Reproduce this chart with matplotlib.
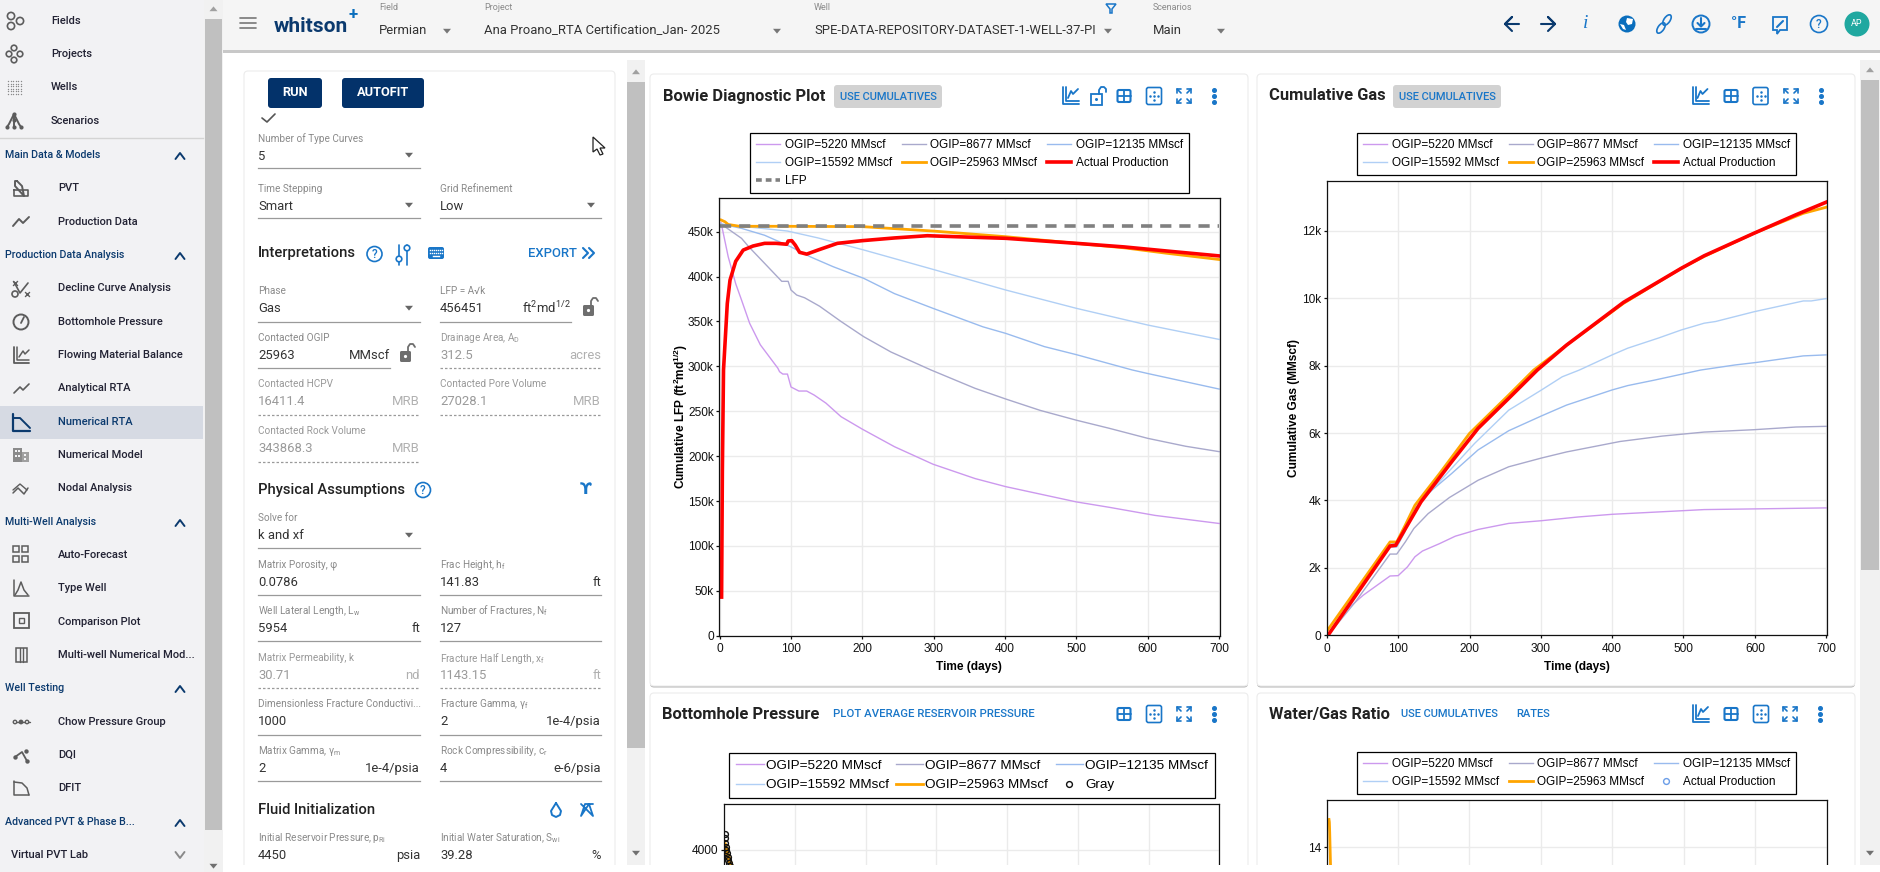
import matplotlib
matplotlib.use('Agg')
import matplotlib.pyplot as plt
from matplotlib.patches import Rectangle, FancyBboxPatch, Circle, Polygon, Ellipse
from matplotlib.lines import Line2D

plt.rcParams['font.family'] = ['Liberation Sans', 'DejaVu Sans']
plt.rcParams['mathtext.fontset'] = 'custom'
plt.rcParams['mathtext.rm'] = 'Roboto'
plt.rcParams['mathtext.it'] = 'Roboto:italic'
plt.rcParams['mathtext.bf'] = 'Liberation Sans:bold'

W, H = 1880, 872
NAVY = '#0b3a6e'
BLUE = '#1976c8'
ICON = '#5c5c5c'

# series labels
labels_ogip = ['OGIP=5220 MMscf', 'OGIP=8677 MMscf', 'OGIP=12135 MMscf', 'OGIP=15592 MMscf', 'OGIP=25963 MMscf']
colors_ogip = ['#cc99ee', '#a9a9cc', '#99bbee', '#b0cff5', '#ffa500']
widths_ogip = [1.0, 1.0, 1.0, 1.0, 2.0]

# Bowie diagnostic plot, LFP in thousands
bowie_days_5220 = [2, 12, 22.5, 30.6, 42, 57, 81.5, 84, 88.5, 95, 100, 111, 122, 132.5, 149, 170, 200, 245, 299, 358, 401, 465, 500, 546, 610, 700]
bowie_lfp_5220 = [460, 422, 392, 374, 348, 324, 298, 294, 291.4, 291.4, 277, 272.5, 272.5, 268, 259, 244, 230, 210.5, 191, 175, 166, 155, 149, 143, 134, 125]
bowie_days_8677 = [2, 30.6, 41, 63, 87, 96, 100, 108, 119, 140, 170, 202, 240, 296, 358, 401, 449, 500, 546, 600, 653, 700]
bowie_lfp_8677 = [458.5, 442.6, 433, 414.7, 394.7, 394.7, 385, 379.4, 376.4, 367, 350, 333, 316, 296, 275.5, 263.6, 251, 240, 231, 219.8, 211, 205]
bowie_days_12135 = [2, 30.6, 63, 100, 127, 159, 202, 245, 299, 369, 401, 455, 500, 578, 600, 700]
bowie_lfp_12135 = [458.5, 453.7, 446, 433, 422, 411, 398, 381, 364.6, 344, 336.7, 322, 313, 296, 292, 274.7]
bowie_days_15592 = [2, 36, 95, 138, 202, 299, 401, 500, 600, 700]
bowie_lfp_15592 = [458.5, 455.6, 450.7, 443, 429.6, 408, 385, 364.6, 346, 330]
bowie_days_25963 = [2, 7.5, 12, 28, 90, 200, 299, 401, 500, 567, 626, 700]
bowie_lfp_25963 = [463, 461, 458, 456, 456, 455.6, 450.7, 444.4, 437, 432, 426, 419]
bowie_days_actual = [2.7, 3.8, 5.4, 10.7, 14.5, 22.5, 33, 46.7, 63, 79, 94, 96, 101, 106, 112, 122, 138, 165, 200, 245, 291, 331, 401, 500, 567, 626, 700]
bowie_lfp_actual = [43, 184, 296, 370, 396, 417, 429.5, 434, 437, 437, 436, 439.6, 440, 435, 427, 425, 429.6, 437, 440, 443, 445.5, 444.4, 442.6, 437, 433, 428.5, 423]
lfp_days = [0, 700]
lfp_value = [456.451, 456.451]

# cumulative gas, thousands of MMscf
gas_days_5220 = [1.6, 24, 51, 88.6, 100, 113, 123.5, 134, 158, 180, 212, 255, 301, 352, 400, 465, 529, 599, 700]
gas_cum_5220 = [0, 0.69, 1.19, 1.76, 1.77, 2.03, 2.33, 2.5, 2.72, 2.94, 3.14, 3.32, 3.4, 3.51, 3.59, 3.66, 3.73, 3.75, 3.78]
gas_days_8677 = [1.6, 40, 88.6, 98, 110, 122, 142, 172, 212, 255, 301, 336, 411, 470, 529, 599, 658, 700]
gas_cum_8677 = [0, 0.99, 2.41, 2.41, 2.77, 3.17, 3.61, 4.09, 4.6, 5.0, 5.26, 5.44, 5.75, 5.91, 6.03, 6.1, 6.18, 6.2]
gas_days_12135 = [1.6, 88.6, 98, 109, 121, 142, 175, 212, 255, 301, 336, 400, 422, 459, 524, 540, 572, 604, 668, 700]
gas_cum_12135 = [0, 2.62, 2.62, 3.05, 3.71, 4.21, 4.8, 5.5, 6.07, 6.51, 6.83, 7.28, 7.41, 7.57, 7.87, 7.92, 8.02, 8.1, 8.29, 8.32]
gas_days_15592 = [1.6, 88.6, 98, 113, 132, 164, 207, 255, 301, 330, 354, 400, 422, 465, 497, 529, 545, 599, 668, 679, 700]
gas_cum_15592 = [0, 2.72, 2.72, 3.27, 3.96, 4.7, 5.69, 6.68, 7.28, 7.67, 7.87, 8.32, 8.52, 8.82, 9.06, 9.26, 9.31, 9.6, 9.92, 9.92, 9.99]
gas_days_25963 = [1.6, 88.6, 98, 110, 123.5, 158, 200, 255, 290, 336, 416, 497, 529, 599, 668, 700]
gas_cum_25963 = [0.17, 2.77, 2.77, 3.27, 3.86, 4.8, 5.99, 7.13, 7.87, 8.61, 9.85, 10.89, 11.24, 11.93, 12.52, 12.7]
gas_days_actual = [1.6, 88.6, 96.5, 113, 132, 175, 212, 255, 295, 336, 416, 497, 529, 599, 658, 700]
gas_cum_actual = [0, 2.65, 2.67, 3.27, 3.96, 5.15, 6.14, 7.03, 7.87, 8.61, 9.88, 10.89, 11.26, 11.93, 12.48, 12.85]

# bottomhole pressure, only the first days are visible
bhp_days_gray = [1, 1.5, 2, 2.5, 3, 4, 5, 6, 7, 8, 9]
bhp_psi_gray = [4160, 4120, 4070, 4030, 4000, 3970, 3930, 3900, 3870, 3840, 3800]
bhp_days_sim = [1, 3, 6, 10, 14]
bhp_psi_sim = [4050, 4000, 3930, 3850, 3750]

# water/gas ratio, only the first days are visible
wgr_days_sim = [3.5, 4, 4.5, 5, 5.6, 6.5]
wgr_ratio_sim = [14.95, 14.86, 14.5, 14.0, 13.38, 12.6]

x_ticks = [0, 100, 200, 300, 400, 500, 600, 700]
bowie_ticks = [0, 50, 100, 150, 200, 250, 300, 350, 400, 450]
bowie_tick_labels = ['0', '50k', '100k', '150k', '200k', '250k', '300k', '350k', '400k', '450k']
gas_ticks = [0, 2, 4, 6, 8, 10, 12]
gas_tick_labels = ['0', '2k', '4k', '6k', '8k', '10k', '12k']

# sidebar rows: text, y, kind
side_rows = [
    ('Fields', 21, 'top'), ('Projects', 54, 'top'), ('Wells', 87, 'top'), ('Scenarios', 121, 'top'),
    ('Main Data & Models', 155, 'head'), ('PVT', 188, 'item'), ('Production Data', 222, 'item'),
    ('Production Data Analysis', 255, 'head'), ('Decline Curve Analysis', 288, 'item'),
    ('Bottomhole Pressure', 322, 'item'), ('Flowing Material Balance', 355, 'item'),
    ('Analytical RTA', 388, 'item'), ('Numerical RTA', 422, 'sel'), ('Numerical Model', 455, 'item'),
    ('Nodal Analysis', 488, 'item'), ('Multi-Well Analysis', 522, 'head'), ('Auto-Forecast', 555, 'item'),
    ('Type Well', 588, 'item'), ('Comparison Plot', 622, 'item'), ('Multi-well Numerical Mod...', 655, 'item'),
    ('Well Testing', 688, 'head'), ('Chow Pressure Group', 722, 'item'), ('DQI', 755, 'item'),
    ('DFIT', 788, 'item'), ('Advanced PVT & Phase B...', 822, 'head'),
]

fig = plt.figure(figsize=(W / 100, H / 100), dpi=100, facecolor='white')
ui = fig.add_axes([0, 0, 1, 1], zorder=0)
ui.set_xlim(0, W)
ui.set_ylim(H, 0)
ui.axis('off')
ui.set_autoscale_on(False)


def txt(x, y, s, size=9.4, color='#222222', weight='normal', ha='left', family=None, **kw):
    fam = family if family else ['Roboto', 'DejaVu Sans']
    ui.text(x, y, s, fontsize=size, color=color, fontweight=weight, ha=ha, va='center', family=fam, **kw)


def rect(x0, y0, x1, y1, color, z=1):
    ui.add_patch(Rectangle((x0, y0), x1 - x0, y1 - y0, fc=color, ec='none', zorder=z))


def line(xs, ys, color=ICON, lw=1.2, **kw):
    ui.plot(xs, ys, color=color, lw=lw, solid_capstyle='round', **kw)


def ring(x, y, r, color=ICON, lw=1.2, fill='none'):
    ui.add_patch(Circle((x, y), r, fc=fill, ec=color, lw=lw, zorder=3))


def tri_down(x, y, color='#666666', s=4):
    ui.add_patch(Polygon([(x - s, y - s * 0.55), (x + s, y - s * 0.55), (x, y + s * 0.65)], fc=color, ec='none', zorder=3))


def tri_up(x, y, color='#a0a0a0', s=4):
    ui.add_patch(Polygon([(x - s, y + s * 0.55), (x + s, y + s * 0.55), (x, y - s * 0.65)], fc=color, ec='none', zorder=3))


def chevron(x, y, up=True, color=NAVY):
    d = -3 if up else 3
    line([x - 4.5, x, x + 4.5], [y - d, y + d, y - d], color=color, lw=1.4)


def icon_chart(x, y, color=BLUE, lw=1.3):
    line([x - 8, x - 8, x + 8], [y - 9, y + 8, y + 8], color, lw)
    line([x - 5, x - 5, x + 8], [y - 9, y + 5, y + 5], color, lw)
    line([x - 3, x, x + 2, x + 7], [y + 2, y - 5, y - 2, y - 7], color, lw)


def icon_lock(x, y, color=BLUE, lw=1.3):
    ui.add_patch(Rectangle((x - 7, y - 2), 11, 11, fc='none', ec=color, lw=lw, zorder=3))
    ui.add_patch(Circle((x - 1.5, y + 3.5), 1.5, fc=color, ec='none', zorder=3))
    line([x + 1, x + 1, x + 3, x + 6, x + 8, x + 8], [y - 2, y - 6, y - 9, y - 9, y - 7, y - 4], color, lw)


def icon_table(x, y, color=BLUE):
    ui.add_patch(FancyBboxPatch((x - 6.5, y - 6), 13, 12, boxstyle='round,pad=0,rounding_size=1.5', fc='none', ec=color, lw=1.5, zorder=3))
    line([x - 6.5, x + 6.5], [y, y], color, 1.3)
    line([x, x], [y - 6, y + 6], color, 1.3)


def icon_dots(x, y, color=BLUE):
    ui.add_patch(FancyBboxPatch((x - 7.5, y - 8.5), 15, 17, boxstyle='round,pad=0,rounding_size=2', fc='none', ec=color, lw=1.2, zorder=3))
    ui.plot([x, x, x, x - 4, x + 4], [y - 4, y, y + 4, y, y], 'o', ms=1.8, color=color, mew=0)


def icon_expand(x, y, color=BLUE, lw=1.2):
    for sx in (-1, 1):
        for sy in (-1, 1):
            line([x + sx * 7, x + sx * 7, x + sx * 3], [y + sy * 3, y + sy * 7, y + sy * 7], color, lw)
            line([x + sx * 7, x + sx * 3], [y + sy * 7, y + sy * 3], color, lw)


def icon_kebab(x, y, color=BLUE):
    ui.plot([x, x, x], [y - 6, y, y + 6], 'o', ms=2.6, color=color)


def icon_help(x, y, color=BLUE, r=7.5):
    ring(x, y, r, color, 1.2)
    txt(x, y, '?', 8.5, color, ha='center', weight='medium')


def toolbar(xs, kinds, y):
    funcs = {'chart': icon_chart, 'lock': icon_lock, 'table': icon_table, 'dots': icon_dots, 'expand': icon_expand, 'kebab': icon_kebab}
    for x, k in zip(xs, kinds):
        funcs[k](x, y)


def card(x0, y0, x1, y1):
    ui.add_patch(FancyBboxPatch((x0, y0 + 1.5), x1 - x0, y1 - y0, boxstyle='round,pad=0,rounding_size=4', fc='#b5b5b5', ec='none', zorder=1))
    ui.add_patch(FancyBboxPatch((x0, y0), x1 - x0, y1 - y0, boxstyle='round,pad=0,rounding_size=4', fc='white', ec='#ececec', lw=0.8, zorder=1.1))


def field(x, y, label, value, unit='', right=None, muted=False, line_end=None, dashed=False, yline=None):
    txt(x, y, label, 7.2, '#8a8a8a' if not muted else '#999999')
    txt(x, y + 17, value, 9.4, '#9a9a9a' if muted else '#333333')
    end = right if line_end is None else line_end
    if unit:
        txt(right, y + 17, unit, 9.4, '#b0b0b0' if muted else '#333333', ha='right')
    yl = (y + 30) if yline is None else yline
    ui.plot([x, end], [yl, yl], color='#9a9a9a', lw=0.9, ls=(0, (2, 1.6)) if dashed else '-')


# sidebar
rect(0, 0, 204, H, '#f2f2f4')
rect(204, 0, 223, H, '#f1f1f1')
rect(205, 19, 222, 830, '#c0c0c0')
tri_up(213.5, 9)
tri_down(213.5, 866, '#707070')
rect(0, 406, 203, 439, '#d6dae3')
ui.plot([0, 203], [138, 138], color='#d4d4d4', lw=1)
for name, y, kind in side_rows:
    if kind == 'head':
        txt(5, y, name, 7.7, NAVY, weight='medium')
        chevron(180, y + 1)
    elif kind == 'top':
        txt(51, y, name, 8.0, '#222233', weight='medium')
    else:
        txt(58, y, name, 8.0, NAVY if kind == 'sel' else '#222233', weight='medium')
txt(11, 855, 'Virtual PVT Lab', 8.0, '#222233', weight='medium')
chevron(180, 855, up=False, color='#8a8a8a')

# sidebar icons
for cx, cy in [(11, 16), (11, 26), (20, 21)]:
    ring(cx, cy, 3.6, ICON)
for cx, cy in [(9, 54), (14, 48), (14, 60), (20, 54)]:
    ring(cx, cy, 2.8, ICON)
ui.scatter([8 + 2.6 * i for i in range(6) for j in range(6)], [81 + 2.6 * j for i in range(6) for j in range(6)], s=1.0, color='#8a8a8a', lw=0)
line([14, 9, 7], [114, 124, 127], ICON, 1.4)
line([14, 19, 21], [114, 124, 127], ICON, 1.4)
line([14, 14], [114, 127], ICON, 1.4)
ui.scatter([14, 14, 7, 21, 14], [114, 120, 127, 127, 127], s=9, color=ICON, lw=0, zorder=3)
line([17, 15, 15, 24, 24, 22, 17], [181, 181, 186, 196, 196, 186, 181], ICON, 1.4)
line([14, 28, 28, 14, 14], [190, 190, 196, 196, 190], ICON, 1.2)
line([13, 19, 23, 29], [226, 219, 223, 217], ICON, 1.4)
line([14, 20, 28], [282, 293, 283], ICON, 1.2)
ring(15, 294, 3, ICON)
ui.scatter([15, 27], [283, 294], marker='x', s=12, color=ICON, lw=1)
ring(21, 322, 7.5, ICON, 1.4)
line([21, 24], [323, 317], ICON, 1.3)
line([14, 14, 29], [347, 363, 363], ICON, 1.3)
line([17, 17, 29], [347, 360, 360], ICON, 1.1)
line([19, 23, 25, 29], [357, 351, 354, 350], ICON, 1.1)
line([14, 20, 23, 29], [393, 387, 390, 384], ICON, 1.2)
line([13, 13, 30], [414, 431, 431], NAVY, 1.6)
line([13, 20, 30], [418, 418, 428], NAVY, 1.4)
rect(13, 448, 22, 462, '#8a8a8a')
rect(22, 452, 29, 462, '#a0a0a0')
ui.scatter([15.5, 19, 15.5, 19, 25, 25], [451, 451, 456, 456, 455, 459], marker='s', s=2, color='#f2f2f4', lw=0, zorder=3)
line([13, 20, 27], [490, 484, 490], ICON, 1)
line([13, 18, 24, 28], [493, 488, 494, 488], ICON, 1.1)
for cx, cy in [(16, 549), (25, 549), (16, 559), (25, 559)]:
    ui.add_patch(Rectangle((cx - 3, cy - 3), 6, 6, fc='none', ec=ICON, lw=1.1, zorder=3))
line([14, 14, 29], [580, 596, 596], ICON, 1.1)
line([15, 18, 21, 24, 28], [595, 590, 582, 590, 595], ICON, 1.1)
ui.add_patch(Rectangle((14, 613), 15, 15, fc='none', ec=ICON, lw=1.3, zorder=3))
ui.add_patch(Rectangle((19, 618), 5, 5, fc='none', ec=ICON, lw=1, zorder=3))
ui.add_patch(Rectangle((16, 648), 11, 14, fc='none', ec=ICON, lw=1.1, zorder=3))
line([19.6, 19.6], [648, 662], ICON, 1)
line([23.2, 23.2], [648, 662], ICON, 1)
line([13, 30], [722, 722], ICON, 1)
for cx in (15, 21, 27):
    ring(cx, 722, 1.7, ICON, 1, fill='#f2f2f4' if cx != 21 else ICON)
line([15, 22, 27], [757, 752, 761], ICON, 1.3)
ui.scatter([15, 27, 26], [757, 761, 751], s=10, color=ICON, lw=0, zorder=3)
line([14, 14, 29], [781, 795, 795], ICON, 1.1)
line([14, 22, 27, 29], [782, 783, 788, 795], ICON, 1.1)

# top bar
rect(223, 50, W, 53, '#c8c8c8')
rect(223, 0, W, 50, '#f5f5f5', z=1.1)
for yy in (18, 23, 28):
    line([240, 256], [yy, yy], '#777777', 1.2)
txt(274, 26, 'whitson', 15, NAVY, weight='bold')
txt(353, 14, '+', 12, '#0a6ebd', ha='center', weight='bold')
for x, name in [(379, 'Field'), (484, 'Project'), (814, 'Well'), (1153, 'Scenarios')]:
    txt(x, 8, name, 6.5, '#8a8a8a')
for x, name in [(379, 'Permian'), (484, 'Ana Proano_RTA Certification_Jan- 2025'), (814, 'SPE-DATA-REPOSITORY-DATASET-1-WELL-37-PI'), (1153, 'Main')]:
    txt(x, 31, name, 9.4, '#333333')
for x in (447, 777, 1108, 1221):
    tri_down(x, 31, '#777777')
ui.add_patch(Polygon([(1106, 4), (1116, 4), (1112, 9), (1112, 13), (1110, 13), (1110, 9)], fc='none', ec=BLUE, lw=1.1, zorder=3))

line([1519, 1505, 1512, 1505, 1512], [24, 24, 17, 24, 31], NAVY, 1.5)
line([1541, 1555, 1548, 1555, 1548], [24, 24, 17, 24, 31], NAVY, 1.5)
txt(1586, 24, 'i', 14, BLUE, ha='center', style='italic', family=['Liberation Serif'])
ui.add_patch(Circle((1627, 24), 8.5, fc='#0a6ebd', ec='none', zorder=3))
ui.add_patch(Polygon([(1627, 18), (1633, 19), (1632, 24), (1628, 25), (1626, 22)], fc='white', ec='none', zorder=4))
ui.add_patch(Polygon([(1620, 24), (1624, 25), (1626, 30), (1623, 29)], fc='white', ec='none', zorder=4))
ui.add_patch(Ellipse((1667, 20), 12, 6, angle=-55, fc='none', ec=BLUE, lw=1.2, zorder=3))
ui.add_patch(Ellipse((1661, 28), 12, 6, angle=-55, fc='none', ec=BLUE, lw=1.2, zorder=3))
ring(1701, 24, 8.5, BLUE, 1.4)
line([1701, 1701], [18, 26], BLUE, 1.5)
line([1697.5, 1701, 1704.5], [23, 26.5, 23], BLUE, 1.5)
line([1696, 1706], [29, 29], BLUE, 1.5)
txt(1739, 24, '°F', 11.5, BLUE, ha='center', weight='bold')
ui.add_patch(Polygon([(1773, 17), (1787, 17), (1787, 30), (1780, 30), (1777, 34), (1777, 30), (1773, 30)], fc='none', ec=BLUE, lw=1.3, zorder=3))
line([1777, 1783], [27, 21], BLUE, 1.5)
icon_help(1819, 24, BLUE, 8.5)
ui.add_patch(Circle((1857, 24), 12.5, fc='#20a8a0', ec='none', zorder=3))
txt(1857, 24, 'AP', 6.5, 'white', ha='center')

# left panel
card(244, 71, 615, 900)
rect(627, 60, 645, 872, '#f1f1f1')
rect(627, 82, 645, 748, '#c0c0c0')
tri_up(636, 72)
tri_down(636, 853, '#707070')
rect(1860, 60, 1880, 872, '#f1f1f1')
rect(1861, 80, 1879, 570, '#c0c0c0')
tri_up(1870, 70)
tri_down(1870, 853, '#707070')

for x0, x1, name in [(268, 322, 'RUN'), (342, 424, 'AUTOFIT')]:
    ui.add_patch(FancyBboxPatch((x0, 78), x1 - x0, 30, boxstyle='round,pad=0,rounding_size=3', fc='#03326a', ec='none', zorder=3))
    txt((x0 + x1) / 2, 92.5, name, 9.2, 'white', ha='center', weight='bold', zorder=4)
line([262, 267, 275], [118, 122, 114], '#555555', 1.2)

field(258, 139, 'Number of Type Curves', '5', right=420, yline=168)
tri_down(409, 155)
field(258, 189, 'Time Stepping', 'Smart', right=420, yline=218)
tri_down(409, 205)
field(440, 189, 'Grid Refinement', 'Low', right=601, yline=218)
tri_down(591, 205)

txt(258, 253, 'Interpretations', 10.6, '#222222', weight='medium')
icon_help(374.5, 254)
for x, yk in [(399, 259), (407, 248)]:
    line([x, x], [245, 265], BLUE, 1.2)
    ring(x, yk, 2.8, BLUE, 1.2, fill='white')
ui.add_patch(FancyBboxPatch((428, 247), 16, 12, boxstyle='round,pad=0,rounding_size=2', fc=BLUE, ec='none', zorder=3))
ui.plot([430 + 2 * i for i in range(7)] * 2, [250] * 7 + [253] * 7, 's', ms=1, color='white', zorder=4, mew=0)
ui.plot([433, 439], [256, 256], color='white', lw=1, zorder=4)
txt(528, 253, 'EXPORT', 9.4, BLUE, weight='medium')
line([583, 588, 583], [248, 253, 258], BLUE, 1.5)
line([589, 594, 589], [248, 253, 258], BLUE, 1.5)

field(258, 291, 'Phase', 'Gas', right=420, yline=322)
tri_down(409, 308)
field(440, 291, 'LFP = A√k', '456451', 'ft$^{\\mathrm{2}}$md$^{\\mathrm{1/2}}$', right=571, yline=322)


def gray_lock(x, y):
    ui.add_patch(FancyBboxPatch((x - 6, y - 2), 11, 11, boxstyle='round,pad=0,rounding_size=1.5', fc='#6e6e6e', ec='none', zorder=3))
    ui.add_patch(Circle((x - 0.5, y + 3.5), 1.6, fc='white', ec='none', zorder=4))
    line([x + 2, x + 2, x + 4, x + 7, x + 9], [y - 2, y - 6, y - 9, y - 9, y - 6], '#6e6e6e', 1.3)


gray_lock(589, 307)
field(258, 338, 'Contacted OGIP', '25963', 'MMscf', right=390, yline=368)
gray_lock(406, 353)
field(440, 338, 'Drainage Area, A$_{\\mathrm{D}}$', '312.5', 'acres', right=601, muted=True, dashed=True, yline=368)
field(258, 384, 'Contacted HCPV', '16411.4', 'MRB', right=420, muted=True, dashed=True, yline=415)
field(440, 384, 'Contacted Pore Volume', '27028.1', 'MRB', right=601, muted=True, dashed=True, yline=415)
field(258, 431, 'Contacted Rock Volume', '343868.3', 'MRB', right=420, muted=True, dashed=True, yline=462)

txt(258, 489.5, 'Physical Assumptions', 10.6, '#222222', weight='medium')
icon_help(423, 490)
txt(586, 489, 'ϒ', 11.5, BLUE, ha='center', weight='bold', family=['DejaVu Sans'])
field(258, 518, 'Solve for', 'k and xf', right=420, yline=548)
tri_down(409, 535)
field(258, 565, 'Matrix Porosity, φ', '0.0786', right=420, yline=595)
field(440, 565, 'Frac Height, h$_{\\mathrm{f}}$', '141.83', 'ft', right=601, yline=595)
field(258, 611, 'Well Lateral Length, L$_{\\mathrm{w}}$', '5954', 'ft', right=420, yline=641)
field(440, 611, 'Number of Fractures, N$_{\\mathrm{f}}$', '127', right=601, yline=641)
field(258, 658, 'Matrix Permeability, k', '30.71', 'nd', right=420, muted=True, dashed=True, yline=688)
field(440, 658, 'Fracture Half Length, x$_{\\mathrm{f}}$', '1143.15', 'ft', right=601, muted=True, dashed=True, yline=688)
field(258, 704, 'Dimensionless Fracture Conductivi...', '1000', right=420, yline=735)
field(440, 704, 'Fracture Gamma, γ$_{\\mathrm{f}}$', '2', '1e-4/psia', right=601, yline=735)
field(258, 751, 'Matrix Gamma, γ$_{\\mathrm{m}}$', '2', '1e-4/psia', right=420, yline=781)
field(440, 751, 'Rock Compressibility, c$_{\\mathrm{r}}$', '4', 'e-6/psia', right=601, yline=781)
txt(258, 809.5, 'Fluid Initialization', 10.6, '#222222', weight='medium')
line([556, 551, 552, 556, 560, 561, 556], [803, 811, 815, 817, 815, 811, 803], BLUE, 1.4)
line([581, 593, 589, 581, 585, 593], [804, 816, 804, 816, 804, 804], BLUE, 1.3)
field(258, 838, 'Initial Reservoir Pressure, p$_{\\mathrm{Ri}}$', '4450', 'psia', right=420, yline=880)
field(440, 838, 'Initial Water Saturation, S$_{\\mathrm{wi}}$', '39.28', '%', right=601, yline=880)
ui.add_patch(Polygon([(593, 137), (593, 152), (597, 149), (600, 155), (603, 154), (600, 148), (605, 148)], fc='white', ec='#222222', lw=0.9, zorder=5))

# chart cards
card(650, 74, 1248, 686)
card(1257, 74, 1855, 686)
card(650, 693, 1248, 900)
card(1257, 693, 1855, 900)

txt(663, 96, 'Bowie Diagnostic Plot', 11.9, '#222222', weight='bold')
txt(1269, 96, 'Cumulative Gas', 11.9, '#222222', weight='bold')
txt(662, 714, 'Bottomhole Pressure', 11.9, '#222222', weight='bold')
txt(1269, 714, 'Water/Gas Ratio', 11.9, '#222222', weight='bold')
for x0, x1 in [(834, 942), (1393, 1501)]:
    ui.add_patch(FancyBboxPatch((x0, 85), x1 - x0, 23, boxstyle='round,pad=0,rounding_size=3', fc='#d2d2d2', ec='none', zorder=2))
    txt((x0 + x1) / 2, 96.5, 'USE CUMULATIVES', 8.0, BLUE, ha='center', weight='medium')
txt(833, 714, 'PLOT AVERAGE RESERVOIR PRESSURE', 8.2, BLUE, weight='medium')
txt(1401, 714, 'USE CUMULATIVES', 8.0, BLUE, weight='medium')
txt(1516, 714, 'RATES', 8.0, BLUE, weight='medium')
toolbar([1071, 1098, 1124, 1154, 1184, 1214], ['chart', 'lock', 'table', 'dots', 'expand', 'kebab'], 96)
toolbar([1700.5, 1731, 1760.5, 1791, 1820.5], ['chart', 'table', 'dots', 'expand', 'kebab'], 96)
toolbar([1124, 1154, 1184, 1214], ['table', 'dots', 'expand', 'kebab'], 714)
toolbar([1701, 1731, 1761, 1790, 1820], ['chart', 'table', 'dots', 'expand', 'kebab'], 714)


def chart_axes(x0, y0, x1, y1):
    ax = fig.add_axes([x0 / W, 1 - y1 / H, (x1 - x0) / W, (y1 - y0) / H], zorder=2)
    ax.set_facecolor('white')
    ax.set_axisbelow(True)
    ax.grid(True, color='#ebebeb', lw=1)
    for sp in ax.spines.values():
        sp.set_linewidth(0.9)
        sp.set_color('#111111')
    ax.tick_params(length=2.4, width=0.9, pad=1.5, labelsize=8.6, colors='#111111')
    ax.tick_params(axis='x', pad=3)
    ax.set_xticks(x_ticks)
    return ax


def legend_at(ax, handles, cx, cy, size, handlelength, labelspacing, columnspacing, borderpad, textpad=0.42):
    leg = ax.legend(handles=handles, loc='center', bbox_to_anchor=(cx / W, 1 - cy / H), bbox_transform=fig.transFigure,
                    ncol=3, fontsize=size, frameon=True, fancybox=False, edgecolor='black', framealpha=1,
                    handlelength=handlelength, handletextpad=textpad, columnspacing=columnspacing,
                    labelspacing=labelspacing, borderpad=borderpad, borderaxespad=0)
    leg.get_frame().set_linewidth(0.9)
    leg.set_zorder(20)


ogip_handles = [Line2D([], [], color=c, lw=w, label=l) for c, w, l in zip(colors_ogip, widths_ogip, labels_ogip)]
actual_handle = Line2D([], [], color='#ff0000', lw=2.6, label='Actual Production')
lfp_handle = Line2D([], [], color='#808080', lw=2.6, dashes=(1.6, 1.1), label='LFP')

# bowie
ax1 = chart_axes(719.3, 198, 1219.5, 635.7)
ax1.set_xlim(-0.5, 700.5)
ax1.set_ylim(0, 487.5)
ax1.plot(bowie_days_5220, bowie_lfp_5220, color=colors_ogip[0], lw=widths_ogip[0])
ax1.plot(bowie_days_8677, bowie_lfp_8677, color=colors_ogip[1], lw=widths_ogip[1])
ax1.plot(bowie_days_12135, bowie_lfp_12135, color=colors_ogip[2], lw=widths_ogip[2])
ax1.plot(bowie_days_15592, bowie_lfp_15592, color=colors_ogip[3], lw=widths_ogip[3])
ax1.plot(bowie_days_25963, bowie_lfp_25963, color=colors_ogip[4], lw=widths_ogip[4])
ax1.plot(lfp_days, lfp_value, color='#808080', lw=2.6, dashes=(3.1, 2.2))
ax1.plot(bowie_days_actual, bowie_lfp_actual, color='#ff0000', lw=2.6, solid_joinstyle='round')
ax1.set_yticks(bowie_ticks)
ax1.set_yticklabels(bowie_tick_labels)
ax1.set_xlabel('Time (days)', fontsize=8.6, fontweight='bold', labelpad=4.5)
ax1.set_ylabel('Cumulative LFP (ft$\\mathbf{^{2}}$md$\\mathbf{^{1/2}}$)', fontsize=8.6, fontweight='bold', labelpad=-1.2)
legend_at(ax1, [ogip_handles[0], ogip_handles[3], lfp_handle, ogip_handles[1], ogip_handles[4], ogip_handles[2], actual_handle],
          969.5, 163, 8.5, 2.03, 0.5, 0.8, 0.5)

# cumulative gas
ax2 = chart_axes(1326.5, 181.3, 1826.5, 635.3)
ax2.set_xlim(-0.5, 700.5)
ax2.set_ylim(0, 13.47)
ax2.plot(gas_days_5220, gas_cum_5220, color=colors_ogip[0], lw=widths_ogip[0])
ax2.plot(gas_days_8677, gas_cum_8677, color=colors_ogip[1], lw=widths_ogip[1])
ax2.plot(gas_days_12135, gas_cum_12135, color=colors_ogip[2], lw=widths_ogip[2])
ax2.plot(gas_days_15592, gas_cum_15592, color=colors_ogip[3], lw=widths_ogip[3])
ax2.plot(gas_days_25963, gas_cum_25963, color=colors_ogip[4], lw=widths_ogip[4])
ax2.plot(gas_days_actual, gas_cum_actual, color='#ff0000', lw=2.6, solid_joinstyle='round')
ax2.set_yticks(gas_ticks)
ax2.set_yticklabels(gas_tick_labels)
ax2.set_xlabel('Time (days)', fontsize=8.6, fontweight='bold', labelpad=4.5)
ax2.set_ylabel('Cumulative Gas (MMscf)', fontsize=8.6, fontweight='bold', labelpad=1.5)
legend_at(ax2, [ogip_handles[0], ogip_handles[3], ogip_handles[1], ogip_handles[4], ogip_handles[2], actual_handle],
          1576.5, 154, 8.5, 2.03, 0.5, 0.8, 0.5)

# bottomhole pressure, cut by the page
ax3 = chart_axes(724, 804, 1219.5, 1254)
ax3.set_xlim(0, 700)
ax3.set_ylim(0, 4455)
ax3.plot(bhp_days_sim, bhp_psi_sim, color='#ffa500', lw=3.2)
ax3.plot(bhp_days_gray, bhp_psi_gray, 'o', mfc='none', mec='#111111', mew=1, ms=4.2)
ax3.set_yticks([4000])
ax3.set_yticklabels(['4000'])
ax3.tick_params(labelbottom=False)
gray_handle = Line2D([], [], ls='none', marker='o', mfc='none', mec='#111111', mew=1, ms=4.2, label='Gray')
legend_at(ax3, [ogip_handles[0], ogip_handles[3], ogip_handles[1], ogip_handles[4], ogip_handles[2], gray_handle],
          972, 775.5, 9.7, 2.03, 0.5, 0.55, 0.5, textpad=0.15)

# water/gas ratio, cut by the page
ax4 = chart_axes(1326.5, 800, 1826.5, 1254)
ax4.set_xlim(0, 700)
ax4.set_ylim(0, 15.62)
ax4.plot(wgr_days_sim, wgr_ratio_sim, color=colors_ogip[0], lw=1)
ax4.plot(wgr_days_sim, wgr_ratio_sim, color='#ffa500', lw=2)
ax4.set_yticks([14])
ax4.set_yticklabels(['14'])
ax4.tick_params(labelbottom=False)
actual_dot = Line2D([], [], ls='none', marker='o', mfc='none', mec='#6c9ee8', mew=1, ms=4.2, label='Actual Production')
legend_at(ax4, [ogip_handles[0], ogip_handles[3], ogip_handles[1], ogip_handles[4], ogip_handles[2], actual_dot],
          1576.5, 773, 8.5, 2.03, 0.5, 0.8, 0.5)

# the page stops a few pixels above the bottom of the screenshot
fig.add_artist(Rectangle((223 / W, 0), 1 - 223 / W, 7 / H, transform=fig.transFigure, fc='white', ec='none', zorder=30))

fig.savefig('out.png', dpi=100)
